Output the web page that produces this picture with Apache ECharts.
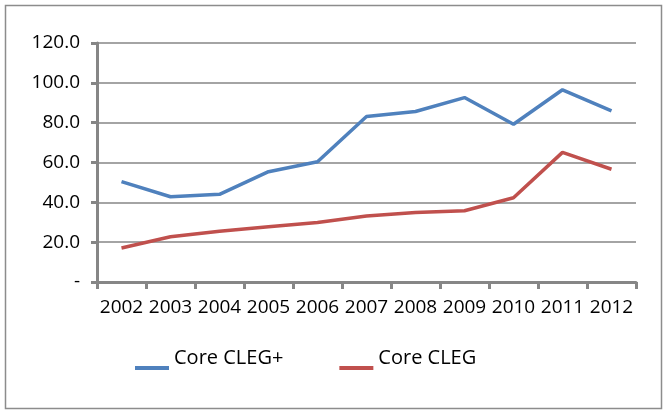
<!DOCTYPE html>
<html><head><meta charset="utf-8">
<script src="https://cdn.jsdelivr.net/npm/echarts@6/dist/echarts.min.js"></script>
<style>html,body{margin:0;padding:0;background:#fff}#c{width:667px;height:415px}</style>
</head><body><div id="c"></div>
<script>
const years = ['2002','2003','2004','2005','2006','2007','2008','2009','2010','2011','2012'];
const coreClegPlus = [50.4, 42.8, 44.0, 55.4, 60.4, 83.1, 85.6, 92.6, 79.2, 96.5, 85.9];
const coreCleg = [17.1, 22.7, 25.5, 27.7, 29.9, 33.1, 34.9, 35.8, 42.3, 65.1, 56.6];
const yTickLabels = ['-', '20.0', '40.0', '60.0', '80.0', '100.0', '120.0'];
const seriesNames = ['Core CLEG+', 'Core CLEG'];

const chart = echarts.init(document.getElementById('c'));
const font = 'Open Sans';
chart.setOption({
  animation: false,
  backgroundColor: '#fff',
  graphic: [{type:'rect', shape:{x:5.5,y:5.5,width:656,height:403}, style:{fill:'none', stroke:'#8c8c8c', lineWidth:1.5}, silent:true}],
  grid: {left: 97, right: 31, top: 43, bottom: 133},
  legend: {
    data: seriesNames, left: 130, top: 341, itemWidth: 34, itemHeight: 24, itemGap: 56,
    icon: 'path://M0,0 L0,0 M0,20 L34,20 L34,24 L0,24 Z',
    textStyle: {fontFamily: font, fontSize: 20, color: '#000'}
  },
  xAxis: {
    type: 'category', data: years, boundaryGap: true,
    axisLine: {lineStyle: {color: '#868686', width: 3}},
    axisTick: {show: true, length: 7, lineStyle: {color: '#868686', width: 3}},
    axisLabel: {fontFamily: font, fontSize: 19, color: '#000', margin: 16, interval: 0}
  },
  yAxis: {
    type: 'value', min: 0, max: 120, interval: 20,
    axisLine: {show: true, lineStyle: {color: '#868686', width: 3}},
    axisTick: {show: true, length: 6, lineStyle: {color: '#868686', width: 3}},
    splitLine: {lineStyle: {color: '#868686', width: 1.5}},
    axisLabel: {fontFamily: font, fontSize: 19, color: '#000', margin: 17,
      formatter: v => yTickLabels[Math.round(v/20)]}
  },
  series: [
    {name: seriesNames[0], type: 'line', data: coreClegPlus, symbol: 'none', lineStyle: {color: '#4F81BD', width: 3.5}, itemStyle: {color: '#4F81BD'}},
    {name: seriesNames[1], type: 'line', data: coreCleg, symbol: 'none', lineStyle: {color: '#C0504D', width: 3.5}, itemStyle: {color: '#C0504D'}}
  ]
});
</script></body></html>
